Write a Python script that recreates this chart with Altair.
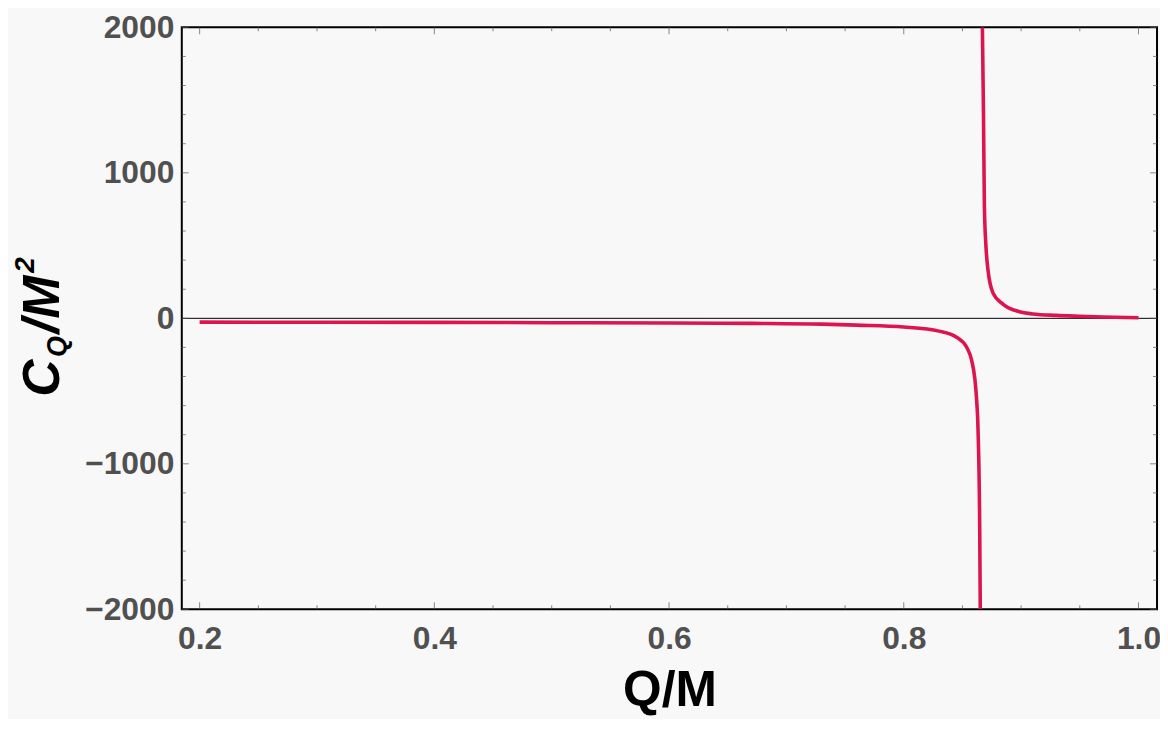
import altair as alt
import pandas as pd

# values
lower_q = [0.20, 0.30, 0.40, 0.50, 0.60, 0.67, 0.73, 0.76, 0.80, 0.83, 0.845,
           0.8536, 0.8578, 0.8606, 0.862, 0.8633, 0.8647, 0.8652]
lower_c = [-26, -27, -28, -30, -32, -35, -40, -47, -60, -88, -130,
           -199, -287, -419, -551, -770, -1430, -2000]

upper_q = [0.8670, 0.8679, 0.8687, 0.8700, 0.8718, 0.8760, 0.8845, 0.8986,
           0.9100, 0.9300, 0.9500, 0.9700, 1.0000]
upper_c = [2000, 1430, 770, 500, 330, 175, 98, 45, 30, 20, 14, 9, 4]

x_major = [0.2, 0.4, 0.6, 0.8, 1.0]
x_minor = [0.25, 0.3, 0.35, 0.45, 0.5, 0.55, 0.65, 0.7, 0.75, 0.85, 0.9, 0.95]
y_major = [-2000, -1000, 0, 1000, 2000]
y_minor = [-1800, -1600, -1400, -1200, -800, -600, -400, -200,
           200, 400, 600, 800, 1200, 1400, 1600, 1800]

W, H = 982, 586
FONT = "Liberation Sans"

curve = pd.DataFrame({
    "q": lower_q + upper_q,
    "c": lower_c + upper_c,
    "branch": ["low"] * len(lower_q) + ["high"] * len(upper_q),
})

xs = alt.Scale(domain=[0.1848, 1.0158], nice=False, zero=False)
ys = alt.Scale(domain=[-2000, 2000], nice=False, zero=False)

xax = alt.Axis(values=x_major, format=".1f", title="Q/M", grid=False, domain=False,
               ticks=False, tickSize=0, labelFont=FONT, labelFontSize=32,
               labelFontWeight="bold", labelColor="#505050", labelPadding=14,
               labelFlush=False, titleFont=FONT, titleFontSize=50,
               titleFontWeight="bold", titleColor="black", titleBaseline="alphabetic",
               titleX=W / 2, titleY=97, titleAnchor="middle")
yax = alt.Axis(values=y_major, format="d", title=None, grid=False, domain=False,
               ticks=False, tickSize=0, labelFont=FONT, labelFontSize=32,
               labelFontWeight="bold", labelColor="#505050", labelPadding=8,
               labelFlush=False)


def xticks(vals, size):
    d = pd.DataFrame({"t": vals})
    base = alt.Chart(d).mark_tick(color="#555", thickness=1, size=size,
                                  orient="vertical")
    bot = base.encode(x=alt.X("t:Q", scale=xs, axis=xax), y=alt.value(H - size / 2))
    top = base.encode(x=alt.X("t:Q", scale=xs, axis=xax), y=alt.value(size / 2))
    return bot + top


def yticks(vals, size):
    d = pd.DataFrame({"t": vals})
    base = alt.Chart(d).mark_tick(color="#555", thickness=1, size=size,
                                  orient="horizontal")
    left = base.encode(y=alt.Y("t:Q", scale=ys, axis=yax), x=alt.value(size / 2))
    right = base.encode(y=alt.Y("t:Q", scale=ys, axis=yax), x=alt.value(W - size / 2))
    return left + right


zero_line = alt.Chart(pd.DataFrame({"t": [0]})).mark_rule(
    color="black", strokeWidth=1).encode(
    y=alt.Y("t:Q", scale=ys, axis=yax), x=alt.value(0), x2=alt.value(W))

lines = alt.Chart(curve).mark_line(
    color="#dc1450", strokeWidth=3.6, clip=True, interpolate="monotone").encode(
    x=alt.X("q:Q", scale=xs, axis=xax),
    y=alt.Y("c:Q", scale=ys, axis=yax),
    detail="branch:N",
    order="q:Q",
)


# y title C_Q / M^2 built from pieces, rotated
def ytitle(txt, size, px, py):
    return alt.Chart(pd.DataFrame({"a": [0]})).mark_text(
        text=txt, font=FONT, fontSize=size, fontWeight="bold", fontStyle="italic",
        angle=270, align="left", baseline="alphabetic", color="black").encode(
        x=alt.value(px), y=alt.value(py))


title_parts = (ytitle("C", 52, -124, 372) + ytitle("Q", 27, -117, 332)
               + ytitle("/M", 52, -124, 308) + ytitle("2", 28, -149, 247))

chart = alt.layer(
    zero_line,
    xticks(x_major, 7), xticks(x_minor, 4),
    yticks(y_major, 7), yticks(y_minor, 4),
    lines,
    title_parts,
).properties(
    width=W, height=H,
    autosize=alt.AutoSizeParams(type="none"),
    padding={"left": 175, "top": 17, "right": 3, "bottom": 108},
    background="#f8f8f8",
).configure_view(stroke="black", strokeWidth=2)

chart.save("out.html", embed_options={"renderer": "svg", "actions": False})
